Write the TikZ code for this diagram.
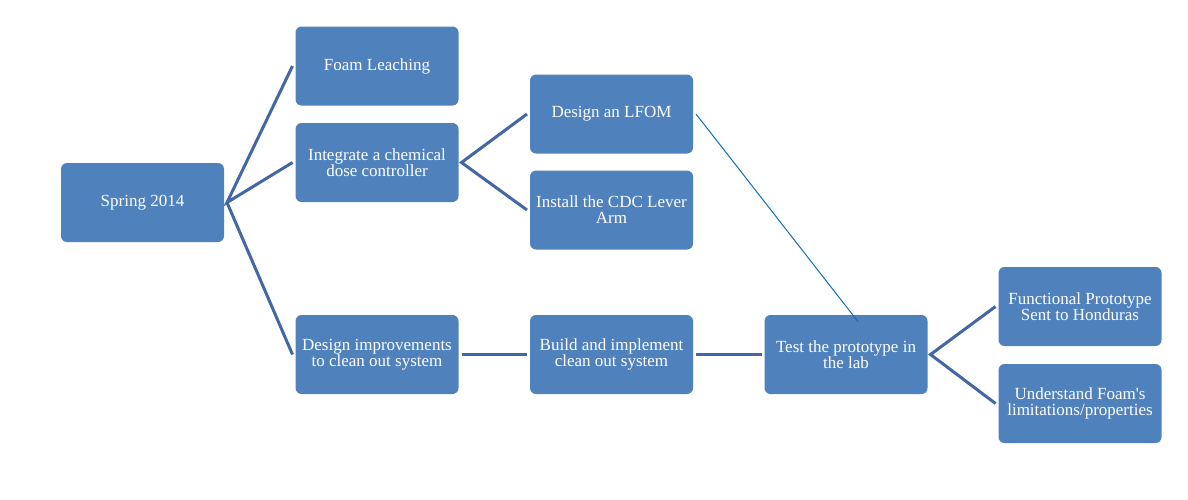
\documentclass[tikz,border=0pt]{standalone}
\usepackage{fontspec}
\setmainfont{Liberation Serif}
\usepackage{tikz}
\definecolor{boxblue}{RGB}{79,129,189}
\definecolor{linkblue}{RGB}{66,103,164}
\definecolor{thinblue}{RGB}{16,110,180}
\tikzstyle{task}=[draw=none, fill=boxblue, rounded corners=3pt, text=white, align=center,
                  minimum width=81.5pt, minimum height=39.5pt, inner sep=0, outer xsep=1.5pt,
                  font=\fontsize{8.5}{8}\selectfont]
\tikzstyle{link}=[draw=linkblue, line width=1.5pt]
\tikzstyle{timeline}=[x=0.5pt, y=-0.5pt,
                      % Same size as the reference page.
                      execute at begin picture={\useasboundingbox (0, 0) rectangle (1188, 499);}]

\begin{document}
\begin{tikzpicture}[timeline]
        \node[task] (S)   at (142.5, 202.5) {Spring 2014};
        \node[task] (F)   at (377, 66)      {Foam Leaching};
        \node[task] (C)   at (377, 162.5)   {Integrate a chemical\\dose controller};
        \node[task] (D)   at (377, 354.5)   {Design improvements\\to clean out system};
        \node[task] (L)   at (611.5, 114)   {Design an LFOM};
        \node[task] (A)   at (611.5, 210)   {Install the CDC Lever\\Arm};
        \node[task] (B)   at (611.5, 354.5) {Build and implement\\clean out system};
        \node[task] (T)   at (846, 354.5)   {Test the prototype in\\the lab};
        \node[task] (H)   at (1080, 306.5)  {Functional Prototype\\Sent to Honduras};
        \node[task] (U)   at (1080, 403.5)  {Understand Foam\textquotesingle s\\limitations/properties};
        \coordinate (Tin) at ([xshift=6pt, yshift=-3.5pt]T.north);
        \draw[link] (F.west) -- (S.east) -- (C.west);
        \draw[link] (S.east) -- (D.west);
        \draw[link] (L.west) -- (C.east) -- (A.west);
        \draw[link] (D) -- (B) -- (T);
        \draw[link] (H.west) -- (T.east) -- (U.west);
        \draw[thinblue, line width=0.5pt] (L.east) -- (Tin);
    \end{tikzpicture}
\end{document}
